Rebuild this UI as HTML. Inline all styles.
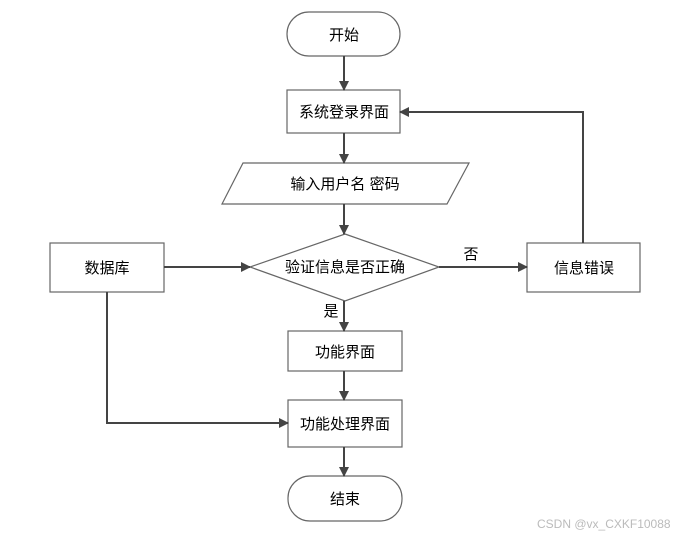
<!DOCTYPE html>
<html><head><meta charset="utf-8"><style>
body{margin:0;background:#fff;width:677px;height:538px;overflow:hidden}
text{font-family:"Liberation Sans","Noto Sans CJK SC",sans-serif;font-size:15px;fill:#000}
</style></head><body>
<svg width="677" height="538" viewBox="0 0 677 538" xmlns="http://www.w3.org/2000/svg">
<defs><marker id="a" markerWidth="10" markerHeight="10" refX="9" refY="5" orient="auto" markerUnits="userSpaceOnUse"><path d="M0,0 L10,5 L0,10 z" fill="#444"/></marker></defs>
<g fill="#fff" stroke="#666" stroke-width="1.2">
<rect x="287" y="12" width="113" height="44" rx="22"/>
<rect x="287" y="90" width="113" height="43"/>
<polygon points="243,163 469,163 447,204 222,204"/>
<polygon points="345,234 439,267 345,301 250,267"/>
<rect x="50" y="243" width="114" height="49"/>
<rect x="527" y="243" width="113" height="49"/>
<rect x="288" y="331" width="114" height="40"/>
<rect x="288" y="400" width="114" height="47"/>
<rect x="288" y="476" width="114" height="45" rx="22"/>
</g>
<g stroke="#444" stroke-width="2" fill="none" marker-end="url(#a)">
<line x1="344" y1="56" x2="344" y2="90"/>
<line x1="344" y1="133" x2="344" y2="163"/>
<line x1="344" y1="204" x2="344" y2="234"/>
<line x1="164" y1="267" x2="250" y2="267"/>
<line x1="439" y1="267" x2="527" y2="267"/>
<polyline points="583,243 583,112 400,112"/>
<line x1="344" y1="301" x2="344" y2="331"/>
<line x1="344" y1="371" x2="344" y2="400"/>
<polyline points="107,292 107,423 288,423"/>
<line x1="344" y1="447" x2="344" y2="476"/>
</g>
<g text-anchor="middle">
<text x="344" y="40">开始</text>
<text x="344" y="117">系统登录界面</text>
<text x="345" y="189">输入用户名 密码</text>
<text x="345" y="272">验证信息是否正确</text>
<text x="107" y="273">数据库</text>
<text x="584" y="273">信息错误</text>
<text x="345" y="357">功能界面</text>
<text x="345" y="429">功能处理界面</text>
<text x="345" y="504">结束</text>
<text x="471" y="259">否</text>
<text x="331" y="316">是</text>
</g>
<text x="537" y="528" style="font-size:12px;fill:#bbb">CSDN @vx_CXKF10088</text>
</svg>
</body></html>
